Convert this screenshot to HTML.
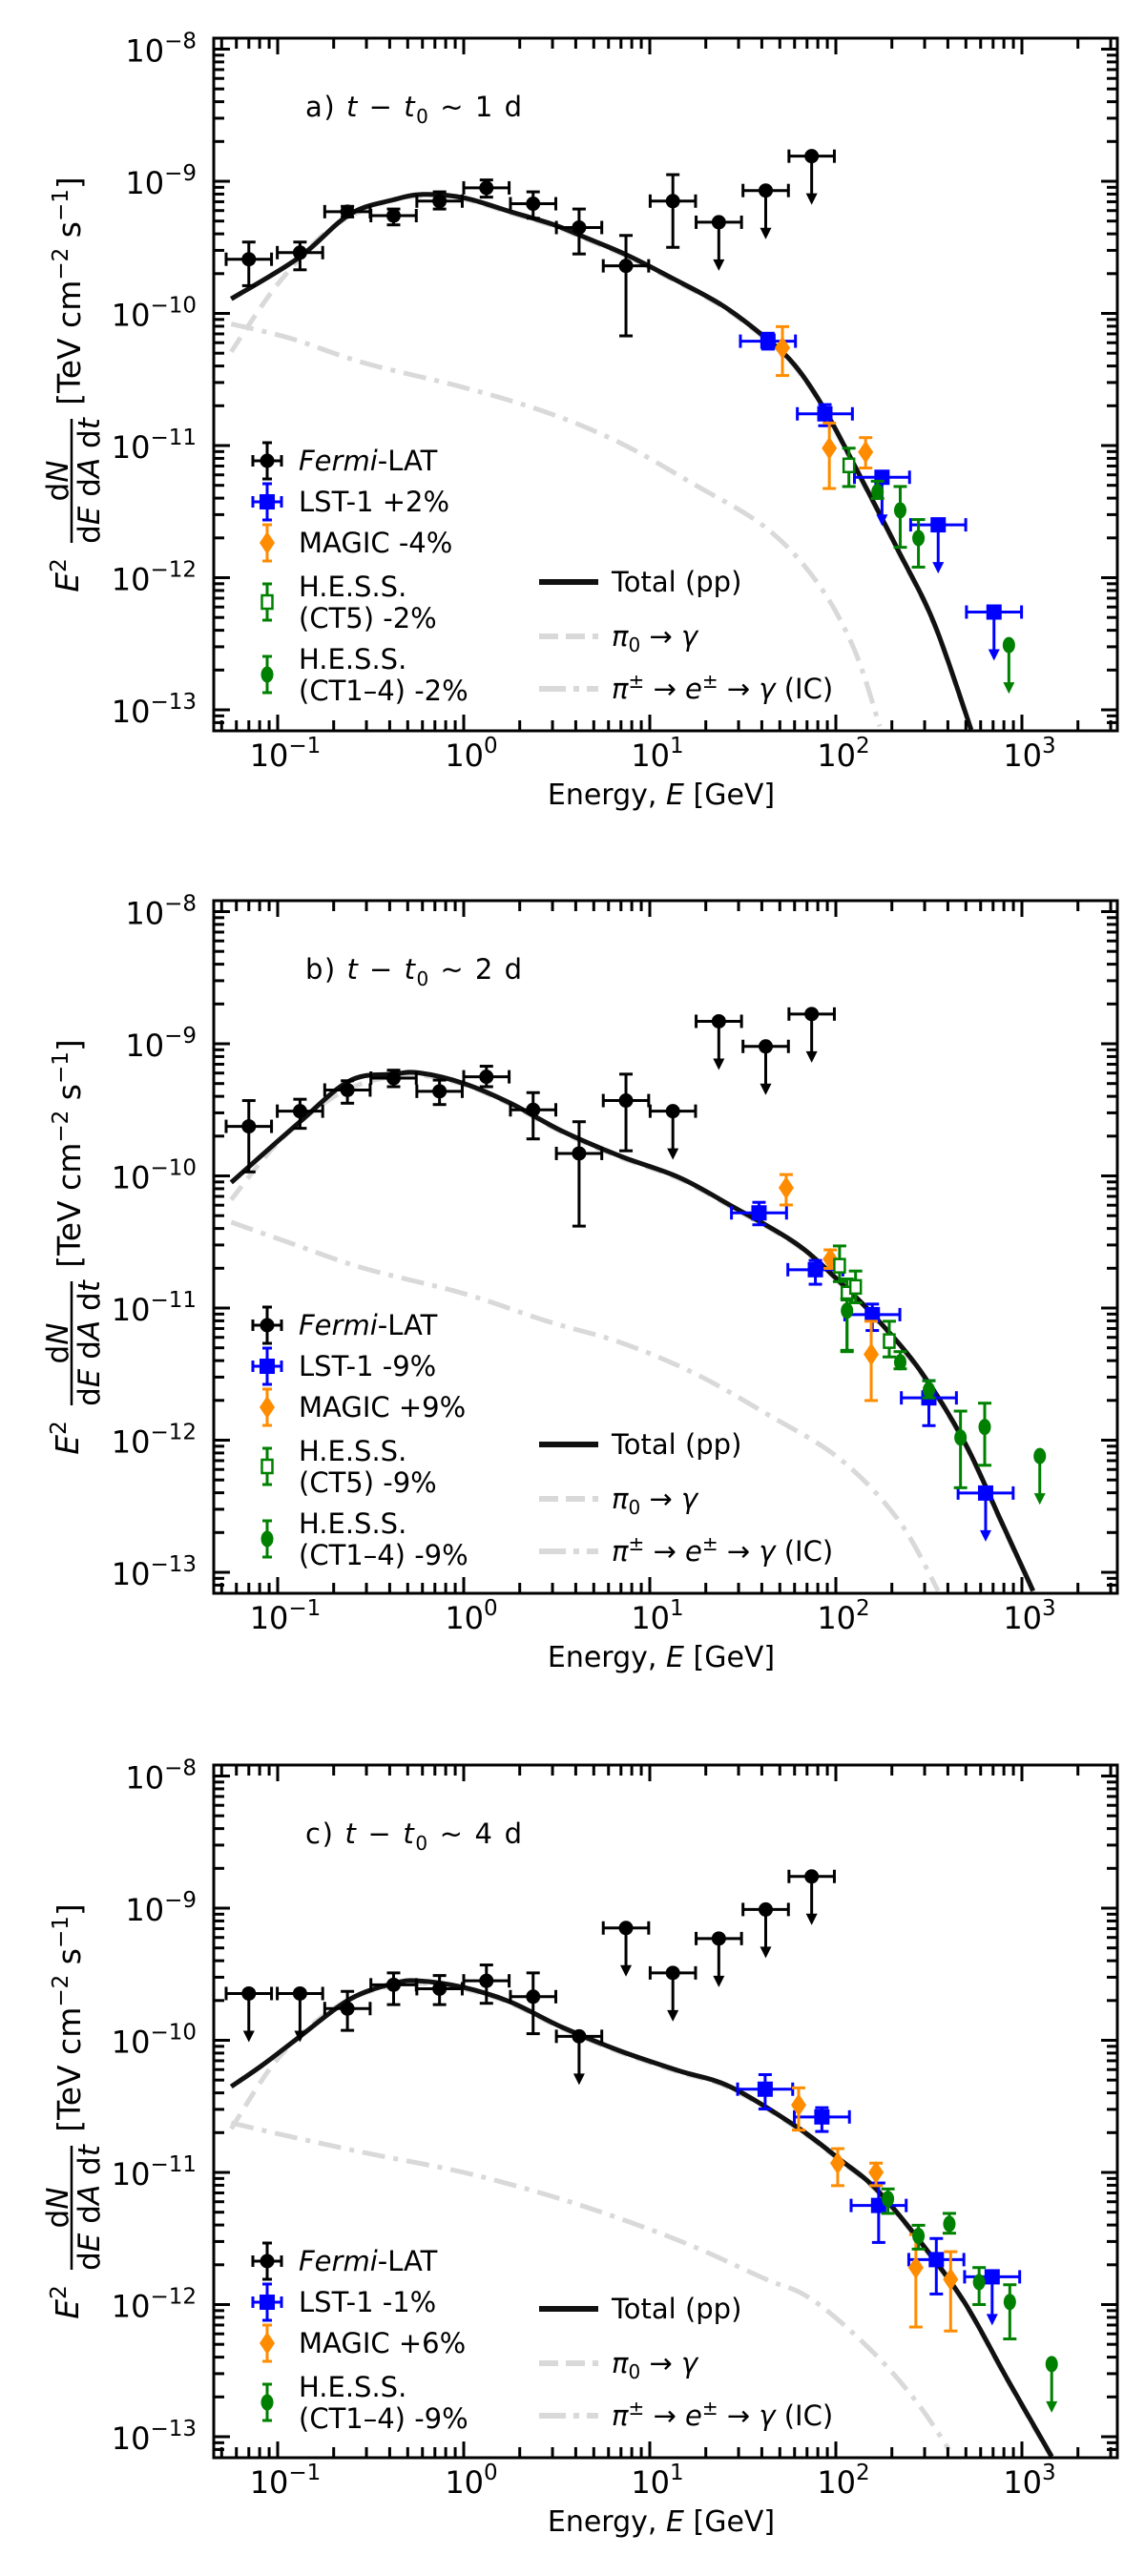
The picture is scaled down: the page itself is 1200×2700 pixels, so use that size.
<!DOCTYPE html>
<html><head><meta charset="utf-8"><style>
html,body{margin:0;padding:0;background:#fff;}
svg{display:block;font-family:"DejaVu Sans","Liberation Sans",sans-serif;}
</style></head><body>
<svg id="fig" width="1200" height="2700" viewBox="0 0 1200 2700" xmlns="http://www.w3.org/2000/svg"></svg>
<script>
// ---- shared data ----
const fermiLogE = [-1.155,-0.88,-0.625,-0.377,-0.13,0.122,0.373,0.62,0.872,1.124,1.371,1.623,1.87];
const xTickExps = [-1,0,1,2,3];
const yTickExps = [-8,-9,-10,-11,-12,-13];
const panelTitles = ["a)","b)","c)"];
const panelDays = ["1","2","4"];
// ---- panel a ----
const aFermiF  = [-9.59,-9.54,-9.23,-9.26,-9.15,-9.05,-9.17,-9.35,-9.64,-9.15,-9.31,-9.07,-8.81];
const aFermiLo = [-9.79,-9.67,-9.27,-9.33,-9.21,-9.12,-9.28,-9.55,-10.17,-9.5,null,null,null];
const aFermiHi = [-9.46,-9.46,-9.19,-9.21,-9.08,-8.99,-9.08,-9.21,-9.41,-8.95,null,null,null];
const aTotX = [-1.25,-0.888,-0.613,-0.377,-0.22,0,0.251,0.487,0.644,0.88,1.116,1.391,1.627,1.784,1.941,2.137,2.334,2.53,2.727];
const aTotF = [-9.89,-9.58,-9.25,-9.14,-9.10,-9.125,-9.23,-9.33,-9.42,-9.56,-9.73,-9.94,-10.19,-10.40,-10.73,-11.25,-11.79,-12.35,-13.15];
const aPiX = [-1.25,-1.006,-0.731,-0.456,-0.22,0,0.251,0.487,0.644,0.88,1.116,1.391,1.627,1.784,1.941,2.137,2.334,2.53,2.727];
const aPiF = [-10.29,-9.79,-9.375,-9.17,-9.11,-9.135,-9.24,-9.34,-9.43,-9.57,-9.74,-9.95,-10.2,-10.41,-10.74,-11.26,-11.8,-12.36,-13.16];
const aIcX = [-1.25,-0.928,-0.535,0,0.448,0.841,1.234,1.627,1.902,2.098,2.236];
const aIcF = [-10.08,-10.19,-10.375,-10.56,-10.75,-10.98,-11.29,-11.625,-12.04,-12.54,-13.125];
const aLstE = [1.635,1.941,2.248,2.55,2.85];
const aLstF = [-10.21,-10.76,-11.24,-11.6,-12.26];
const aLstLo = [-10.27,-10.85,null,null,null];
const aLstHi = [-10.15,-10.69,null,null,null];
const aMagE = [1.713,1.965,2.16];
const aMagF = [-10.26,-11.02,-11.05];
const aMagLo = [-10.47,-11.325,-11.17];
const aMagHi = [-10.1,-10.83,-10.94];
const aCt5E = [2.07];
const aCt5F = [-11.15];
const aCt5Lo = [-11.31];
const aCt5Hi = [-11.02];
const aCt14E = [2.224,2.346,2.444,2.93];
const aCt14F = [-11.35,-11.49,-11.7,-12.51];
const aCt14Lo = [-11.4,-11.77,-11.92,null];
const aCt14Hi = [-11.27,-11.31,-11.56,null];
// ---- panel b ----
const bFermiF  = [-9.625,-9.51,-9.35,-9.26,-9.36,-9.25,-9.5,-9.83,-9.43,-9.51,-8.83,-9.02,-8.775];
const bFermiLo = [-9.97,-9.64,-9.45,-9.325,-9.46,-9.325,-9.72,-10.38,-9.81,null,null,null,null];
const bFermiHi = [-9.43,-9.42,-9.28,-9.2,-9.275,-9.17,-9.37,-9.59,-9.23,null,null,null,null];
const bTotX = [-1.25,-0.888,-0.613,-0.377,-0.24,0,0.251,0.527,0.84,1.155,1.43,1.784,2.02,2.216,2.452,2.69,2.884,3.06];
const bTotF = [-10.05,-9.6,-9.28,-9.23,-9.22,-9.3,-9.45,-9.66,-9.85,-10.01,-10.22,-10.51,-10.8,-11.075,-11.47,-12.01,-12.6,-13.14];
const bPiX = [-1.25,-1.006,-0.731,-0.495,-0.24,0,0.251,0.527,0.84,1.155,1.43,1.784,2.02,2.216,2.452,2.69,2.884,3.06];
const bPiF = [-10.18,-9.76,-9.43,-9.28,-9.24,-9.31,-9.46,-9.67,-9.86,-10.02,-10.23,-10.52,-10.81,-11.085,-11.48,-12.02,-12.61,-13.15];
const bIcX = [-1.25,-0.928,-0.535,0,0.448,0.841,1.234,1.627,2.02,2.334,2.55];
const bIcF = [-10.35,-10.51,-10.7,-10.89,-11.1,-11.26,-11.49,-11.8,-12.14,-12.6,-13.14];
const bLstE = [1.587,1.89,2.196,2.5,2.805];
const bLstF = [-10.28,-10.71,-11.05,-11.68,-12.4];
const bLstLo = [-10.37,-10.82,-11.17,-11.89,null];
const bLstHi = [-10.2,-10.64,-10.97,-11.55,null];
const bMagE = [1.733,1.97,2.19];
const bMagF = [-10.09,-10.63,-11.35];
const bMagLo = [-10.22,-10.7,-11.7];
const bMagHi = [-9.99,-10.56,-11.1];
const bCt5E = [2.02,2.06,2.106,2.287];
const bCt5F = [-10.68,-10.89,-10.84,-11.25];
const bCt5Lo = [-10.8,-11.32,-10.96,-11.37];
const bCt5Hi = [-10.53,-10.78,-10.72,-11.1];
const bCt14E = [2.06,2.346,2.5,2.67,2.8,3.096];
const bCt14F = [-11.02,-11.41,-11.62,-11.98,-11.9,-12.12];
const bCt14Lo = [-11.33,-11.46,-11.68,-12.36,-12.19,null];
const bCt14Hi = [-10.93,-11.33,-11.55,-11.78,-11.72,null];
// ---- panel c ----
const cFermiF  = [-9.646,-9.646,-9.76,-9.58,-9.61,-9.55,-9.67,-9.97,-9.15,-9.49,-9.23,-9.01,-8.76];
const cFermiLo = [null,null,-9.925,-9.73,-9.73,-9.72,-9.95,null,null,null,null,null,null];
const cFermiHi = [null,null,-9.63,-9.49,-9.51,-9.43,-9.49,null,null,null,null,null,null];
const cTotX = [-1.25,-1.084,-0.888,-0.613,-0.377,-0.24,0,0.251,0.527,0.84,1.155,1.43,1.784,2.02,2.216,2.452,2.69,2.92,3.16];
const cTotF = [-10.35,-10.19,-9.98,-9.69,-9.57,-9.55,-9.6,-9.71,-9.9,-10.08,-10.23,-10.35,-10.65,-10.9,-11.125,-11.52,-11.98,-12.56,-13.15];
const cPiX = [-1.25,-1.006,-0.731,-0.495,-0.24,0,0.251,0.527,0.84,1.155,1.43,1.784,2.02,2.216,2.452,2.69,2.92,3.16];
const cPiF = [-10.67,-10.15,-9.79,-9.625,-9.57,-9.61,-9.72,-9.91,-10.09,-10.24,-10.36,-10.66,-10.91,-11.135,-11.53,-11.99,-12.57,-13.16];
const cIcX = [-1.25,-0.928,-0.535,0,0.448,0.841,1.234,1.627,1.823,2.02,2.255,2.452,2.609];
const cIcF = [-10.625,-10.73,-10.85,-11.0,-11.17,-11.35,-11.56,-11.81,-11.92,-12.125,-12.44,-12.77,-13.1];
const cLstE = [1.62,1.925,2.23,2.54,2.84];
const cLstF = [-10.37,-10.58,-11.25,-11.66,-11.79];
const cLstLo = [-10.52,-10.69,-11.53,-11.92,null];
const cLstHi = [-10.26,-10.51,-11.08,-11.5,null];
const cMagE = [1.8,2.01,2.216,2.43,2.617];
const cMagF = [-10.49,-10.93,-11.0,-11.72,-11.81];
const cMagLo = [-10.68,-11.1,-11.1,-12.17,-12.2];
const cMagHi = [-10.36,-10.82,-10.93,-11.47,-11.6];
const cCt14E = [2.28,2.444,2.61,2.77,2.935,3.16];
const cCt14F = [-11.2,-11.48,-11.39,-11.83,-11.98,-12.45];
const cCt14Lo = [-11.31,-11.58,-11.46,-12.0,-12.26,null];
const cCt14Hi = [-11.125,-11.4,-11.31,-11.72,-11.85,null];

const aShifts = ["+2%","-4%","-2%","-2%"];
const bShifts = ["-9%","+9%","-9%","-9%"];
const cShifts = ["-1%","+6%","-9%"];

const NS = "http://www.w3.org/2000/svg";
const svg = document.getElementById('fig');
const offs = [0,904,1810];
const X0 = 486, XD = 195, Y9 = 190, YD = 138.5;
const L = 224, R = 1171, T = 40, B = 766;
function sx(le){ return X0 + XD*le; }
function sy(lf, off){ return off + Y9 + (-9 - lf)*YD; }
function mk(tag, attrs, parent){
  const e = document.createElementNS(NS, tag);
  for (const k in attrs) e.setAttribute(k, attrs[k]);
  (parent||svg).appendChild(e);
  return e;
}

function drawPanel(p){
  const off = offs[p.i];
  const g = mk('g', {});
  
  
  const clipId = 'clip' + p.i;
  const cp = mk('clipPath', {id: clipId}, g);
  mk('rect', {x:L, y:T+off, width:R-L, height:B-T}, cp);
  const plot = mk('g', {'clip-path':'url(#' + clipId + ')'}, g);

  function curve(xs, fs, style, name){
    const pts = xs.map((x,k)=>[sx(x), sy(fs[k],off)]);
    let d = 'M' + pts[0][0].toFixed(1) + ',' + pts[0][1].toFixed(1);
    for (let k = 0; k < pts.length-1; k++){
      const p0 = pts[Math.max(0,k-1)], p1 = pts[k], p2 = pts[k+1], p3 = pts[Math.min(pts.length-1,k+2)];
      const c1x = p1[0] + (p2[0]-p0[0])/6, c1y = p1[1] + (p2[1]-p0[1])/6;
      const c2x = p2[0] - (p3[0]-p1[0])/6, c2y = p2[1] - (p3[1]-p1[1])/6;
      d += 'C' + c1x.toFixed(1) + ',' + c1y.toFixed(1) + ' ' + c2x.toFixed(1) + ',' + c2y.toFixed(1) + ' ' + p2[0].toFixed(1) + ',' + p2[1].toFixed(1);
    }
    const path = mk('path', Object.assign({d:d, fill:'none', 'stroke-linejoin':'round'}, style), plot);
    
    
  }
  curve(p.icX, p.icF, {stroke:'#d9d9d9','stroke-width':5,'stroke-dasharray':'24,9,5,9'}, 'ic-curve');
  curve(p.piX, p.piF, {stroke:'#d9d9d9','stroke-width':5,'stroke-dasharray':'18,10'}, 'pi0-curve');
  curve(p.totX, p.totF, {stroke:'#111','stroke-width':5}, 'total-pp-curve');

  function series(es, fs, lo, hi, xerr, color, shape, name){
    es.forEach((e,k)=>{
      const sg = mk('g', {}, plot);
      
      
      const cx = sx(e), cy = sy(fs[k], off);
      const sw = 3;
      if (xerr > 0){
        const x1 = sx(e - xerr), x2 = sx(e + xerr);
        mk('line', {x1:x1, x2:x2, y1:cy, y2:cy, stroke:color, 'stroke-width':sw}, sg);
        mk('line', {x1:x1, x2:x1, y1:cy-7, y2:cy+7, stroke:color, 'stroke-width':sw}, sg);
        mk('line', {x1:x2, x2:x2, y1:cy-7, y2:cy+7, stroke:color, 'stroke-width':sw}, sg);
      }
      if (lo[k] === null){
        const yEnd = cy + 51;
        mk('line', {x1:cx, x2:cx, y1:cy, y2:yEnd-10, stroke:color, 'stroke-width':sw}, sg);
        mk('path', {d:'M'+(cx-6)+','+(yEnd-12)+'L'+(cx+6)+','+(yEnd-12)+'L'+cx+','+yEnd+'Z', fill:color}, sg);
      } else {
        const y1 = sy(hi[k],off), y2 = sy(lo[k],off);
        mk('line', {x1:cx, x2:cx, y1:y1, y2:y2, stroke:color, 'stroke-width':sw}, sg);
        mk('line', {x1:cx-7, x2:cx+7, y1:y1, y2:y1, stroke:color, 'stroke-width':sw}, sg);
        mk('line', {x1:cx-7, x2:cx+7, y1:y2, y2:y2, stroke:color, 'stroke-width':sw}, sg);
      }
      marker(sg, cx, cy, color, shape);
    });
  }
  series(p.fermiE, p.fermiF, p.fermiLo, p.fermiHi, 0.122, '#000', 'circle', 'fermi-lat');
  series(p.lstE, p.lstF, p.lstLo, p.lstHi, 0.148, '#0000ff', 'square', 'lst-1');
  series(p.magE, p.magF, p.magLo, p.magHi, 0, '#ff8c00', 'diamond', 'magic');
  if (p.ct5E) series(p.ct5E, p.ct5F, p.ct5Lo, p.ct5Hi, 0, '#008000', 'open', 'hess-ct5');
  series(p.ct14E, p.ct14F, p.ct14Lo, p.ct14Hi, 0, '#008000', 'dot', 'hess-ct1-4');

  const fr = mk('rect', {x:L, y:T+off, width:R-L, height:B-T, fill:'none', stroke:'#000', 'stroke-width':3}, g);
  
  
  for (let d = -2; d <= 3; d++){
    for (let m = 1; m <= 9; m++){
      const x = sx(d + Math.log10(m));
      if (x < L+1 || x > R-1) continue;
      const len = m === 1 ? 17 : 11;
      mk('line', {x1:x, x2:x, y1:B+off, y2:B+off-len, stroke:'#000', 'stroke-width':3}, g);
      mk('line', {x1:x, x2:x, y1:T+off, y2:T+off+len, stroke:'#000', 'stroke-width':3}, g);
    }
  }
  for (let d = -14; d <= -8; d++){
    for (let m = 1; m <= 9; m++){
      const y = sy(d + Math.log10(m), off);
      if (y < T+off+1 || y > B+off-1) continue;
      const len = m === 1 ? 17 : 11;
      mk('line', {x1:L, x2:L+len, y1:y, y2:y, stroke:'#000', 'stroke-width':3}, g);
      mk('line', {x1:R, x2:R-len, y1:y, y2:y, stroke:'#000', 'stroke-width':3}, g);
    }
  }
  xTickExps.forEach(ex=>{
    const t = mk('text', {x:sx(ex)+8, y:off+803, 'font-size':32, 'text-anchor':'middle'}, g);
    
    
    t.innerHTML = '10<tspan dy="-14" font-size="23">' + (ex<0?'−':'') + Math.abs(ex) + '</tspan>';
  });
  yTickExps.forEach(ex=>{
    const t = mk('text', {x:206, y:sy(ex,off)+13, 'font-size':32, 'text-anchor':'end'}, g);
    
    
    t.innerHTML = '10<tspan dy="-14" font-size="23">−' + Math.abs(ex) + '</tspan>';
  });
  const xl = mk('text', {x:693, y:off+843, 'font-size':30, 'text-anchor':'middle'}, g);
  
  
  xl.innerHTML = 'Energy, <tspan font-style="italic">E</tspan> [GeV]';
  const yl = mk('g', {transform:'translate(0,' + (405+off) + ') rotate(-90)'}, g);
  
  
  const e2 = mk('text', {x:-198, y:82, 'font-size':33, 'text-anchor':'middle'}, yl);
  e2.innerHTML = '<tspan font-style="italic">E</tspan><tspan dy="-13" font-size="23">2</tspan>';
  const num = mk('text', {x:-99, y:71, 'font-size':31, 'text-anchor':'middle'}, yl);
  num.innerHTML = 'd<tspan font-style="italic">N</tspan>';
  mk('line', {x1:-164, x2:-34, y1:75, y2:75, stroke:'#000', 'stroke-width':2.5}, yl);
  const den = mk('text', {x:-99, y:104, 'font-size':31, 'text-anchor':'middle'}, yl);
  den.innerHTML = 'd<tspan font-style="italic">E</tspan> d<tspan font-style="italic">A</tspan> d<tspan font-style="italic">t</tspan>';
  const br = mk('text', {x:100, y:84, 'font-size':33, 'text-anchor':'middle'}, yl);
  br.innerHTML = '[TeV cm<tspan dy="-13" font-size="23">−2</tspan><tspan dy="13"> s</tspan><tspan dy="-13" font-size="23">−1</tspan><tspan dy="13">]</tspan>';
  const pt = mk('text', {x:320, y:off+122, 'font-size':29, textLength:227, lengthAdjust:'spacing'}, g);
  
  
  pt.innerHTML = panelTitles[p.i] + '  <tspan font-style="italic">t</tspan> − <tspan font-style="italic">t</tspan><tspan dy="7" font-size="20">0</tspan><tspan dy="-7"> ~ ' + panelDays[p.i] + ' d</tspan>';

  const lg = mk('g', {}, g);
  
  
  function legPt(y, color, shape, lines, name){
    const eg = mk('g', {}, lg);
    
    
    mk('line', {x1:280, x2:280, y1:y-19, y2:y+19, stroke:color, 'stroke-width':3}, eg);
    mk('line', {x1:275, x2:285, y1:y-19, y2:y-19, stroke:color, 'stroke-width':3}, eg);
    mk('line', {x1:275, x2:285, y1:y+19, y2:y+19, stroke:color, 'stroke-width':3}, eg);
    if (shape === 'circle' || shape === 'square'){
      mk('line', {x1:265, x2:295, y1:y, y2:y, stroke:color, 'stroke-width':3}, eg);
      mk('line', {x1:265, x2:265, y1:y-6, y2:y+6, stroke:color, 'stroke-width':3}, eg);
      mk('line', {x1:295, x2:295, y1:y-6, y2:y+6, stroke:color, 'stroke-width':3}, eg);
    }
    marker(eg, 280, y, color, shape);
    if (lines.length === 1){
      const t = mk('text', {x:313, y:y+10, 'font-size':29}, eg);
      t.innerHTML = lines[0];
    } else {
      const t1 = mk('text', {x:313, y:y-6, 'font-size':29}, eg); t1.innerHTML = lines[0];
      const t2 = mk('text', {x:313, y:y+27, 'font-size':29}, eg); t2.innerHTML = lines[1];
    }
  }
  p.legend.forEach(en=>legPt(en[0], en[1], en[2], en[3], en[4]));
  function legLine(y, style, label, name){
    const eg = mk('g', {}, lg);
    
    
    mk('line', Object.assign({x1:565, x2:627, y1:y, y2:y}, style), eg);
    const t = mk('text', {x:641, y:y+10, 'font-size':29}, eg);
    t.innerHTML = label;
  }
  legLine(off+610, {stroke:'#111','stroke-width':6}, 'Total (pp)', 'legend-total');
  legLine(off+667, {stroke:'#d9d9d9','stroke-width':6,'stroke-dasharray':'20,8'}, '<tspan font-style="italic">π</tspan><tspan dy="6" font-size="20">0</tspan><tspan dy="-6"> → </tspan><tspan font-style="italic">γ</tspan>', 'legend-pi0');
  legLine(off+722, {stroke:'#d9d9d9','stroke-width':6,'stroke-dasharray':'28,8,6,8'}, '<tspan font-style="italic">π</tspan><tspan dy="-11" font-size="20">±</tspan><tspan dy="11"> → </tspan><tspan font-style="italic">e</tspan><tspan dy="-11" font-size="20">±</tspan><tspan dy="11"> → </tspan><tspan font-style="italic">γ</tspan> (IC)', 'legend-ic');
}

function marker(parent, cx, cy, color, shape){
  if (shape === 'circle') mk('circle', {cx:cx, cy:cy, r:7.5, fill:color}, parent);
  else if (shape === 'square') mk('rect', {x:cx-8, y:cy-8, width:16, height:16, fill:color}, parent);
  else if (shape === 'diamond') mk('path', {d:'M'+cx+','+(cy-12)+'L'+(cx+8)+','+cy+'L'+cx+','+(cy+12)+'L'+(cx-8)+','+cy+'Z', fill:color}, parent);
  else if (shape === 'open') mk('rect', {x:cx-5.5, y:cy-7, width:11, height:14, fill:'#fff', stroke:color, 'stroke-width':2.5}, parent);
  else if (shape === 'dot') mk('ellipse', {cx:cx, cy:cy, rx:6.5, ry:8.5, fill:color}, parent);
}

drawPanel({i:0, fermiE:fermiLogE, fermiF:aFermiF, fermiLo:aFermiLo, fermiHi:aFermiHi,
  totX:aTotX, totF:aTotF, piX:aPiX, piF:aPiF, icX:aIcX, icF:aIcF,
  lstE:aLstE, lstF:aLstF, lstLo:aLstLo, lstHi:aLstHi,
  magE:aMagE, magF:aMagF, magLo:aMagLo, magHi:aMagHi,
  ct5E:aCt5E, ct5F:aCt5F, ct5Lo:aCt5Lo, ct5Hi:aCt5Hi,
  ct14E:aCt14E, ct14F:aCt14F, ct14Lo:aCt14Lo, ct14Hi:aCt14Hi,
  legend:[[483,'#000','circle',['<tspan font-style="italic">Fermi</tspan>-LAT'],'legend-fermi'],
          [526,'#0000ff','square',['LST-1 '+aShifts[0]],'legend-lst'],
          [569,'#ff8c00','diamond',['MAGIC '+aShifts[1]],'legend-magic'],
          [631,'#008000','open',['H.E.S.S.','(CT5) '+aShifts[2]],'legend-hess-ct5'],
          [707,'#008000','dot',['H.E.S.S.','(CT1–4) '+aShifts[3]],'legend-hess-ct14']]});
drawPanel({i:1, fermiE:fermiLogE, fermiF:bFermiF, fermiLo:bFermiLo, fermiHi:bFermiHi,
  totX:bTotX, totF:bTotF, piX:bPiX, piF:bPiF, icX:bIcX, icF:bIcF,
  lstE:bLstE, lstF:bLstF, lstLo:bLstLo, lstHi:bLstHi,
  magE:bMagE, magF:bMagF, magLo:bMagLo, magHi:bMagHi,
  ct5E:bCt5E, ct5F:bCt5F, ct5Lo:bCt5Lo, ct5Hi:bCt5Hi,
  ct14E:bCt14E, ct14F:bCt14F, ct14Lo:bCt14Lo, ct14Hi:bCt14Hi,
  legend:[[904+485,'#000','circle',['<tspan font-style="italic">Fermi</tspan>-LAT'],'legend-fermi'],
          [904+528,'#0000ff','square',['LST-1 '+bShifts[0]],'legend-lst'],
          [904+571,'#ff8c00','diamond',['MAGIC '+bShifts[1]],'legend-magic'],
          [904+633,'#008000','open',['H.E.S.S.','(CT5) '+bShifts[2]],'legend-hess-ct5'],
          [904+709,'#008000','dot',['H.E.S.S.','(CT1–4) '+bShifts[3]],'legend-hess-ct14']]});
drawPanel({i:2, fermiE:fermiLogE, fermiF:cFermiF, fermiLo:cFermiLo, fermiHi:cFermiHi,
  totX:cTotX, totF:cTotF, piX:cPiX, piF:cPiF, icX:cIcX, icF:cIcF,
  lstE:cLstE, lstF:cLstF, lstLo:cLstLo, lstHi:cLstHi,
  magE:cMagE, magF:cMagF, magLo:cMagLo, magHi:cMagHi,
  ct5E:null,
  ct14E:cCt14E, ct14F:cCt14F, ct14Lo:cCt14Lo, ct14Hi:cCt14Hi,
  legend:[[1810+560,'#000','circle',['<tspan font-style="italic">Fermi</tspan>-LAT'],'legend-fermi'],
          [1810+603,'#0000ff','square',['LST-1 '+cShifts[0]],'legend-lst'],
          [1810+646,'#ff8c00','diamond',['MAGIC '+cShifts[1]],'legend-magic'],
          [1810+708,'#008000','dot',['H.E.S.S.','(CT1–4) '+cShifts[2]],'legend-hess-ct14']]});
</script>
</body></html>
